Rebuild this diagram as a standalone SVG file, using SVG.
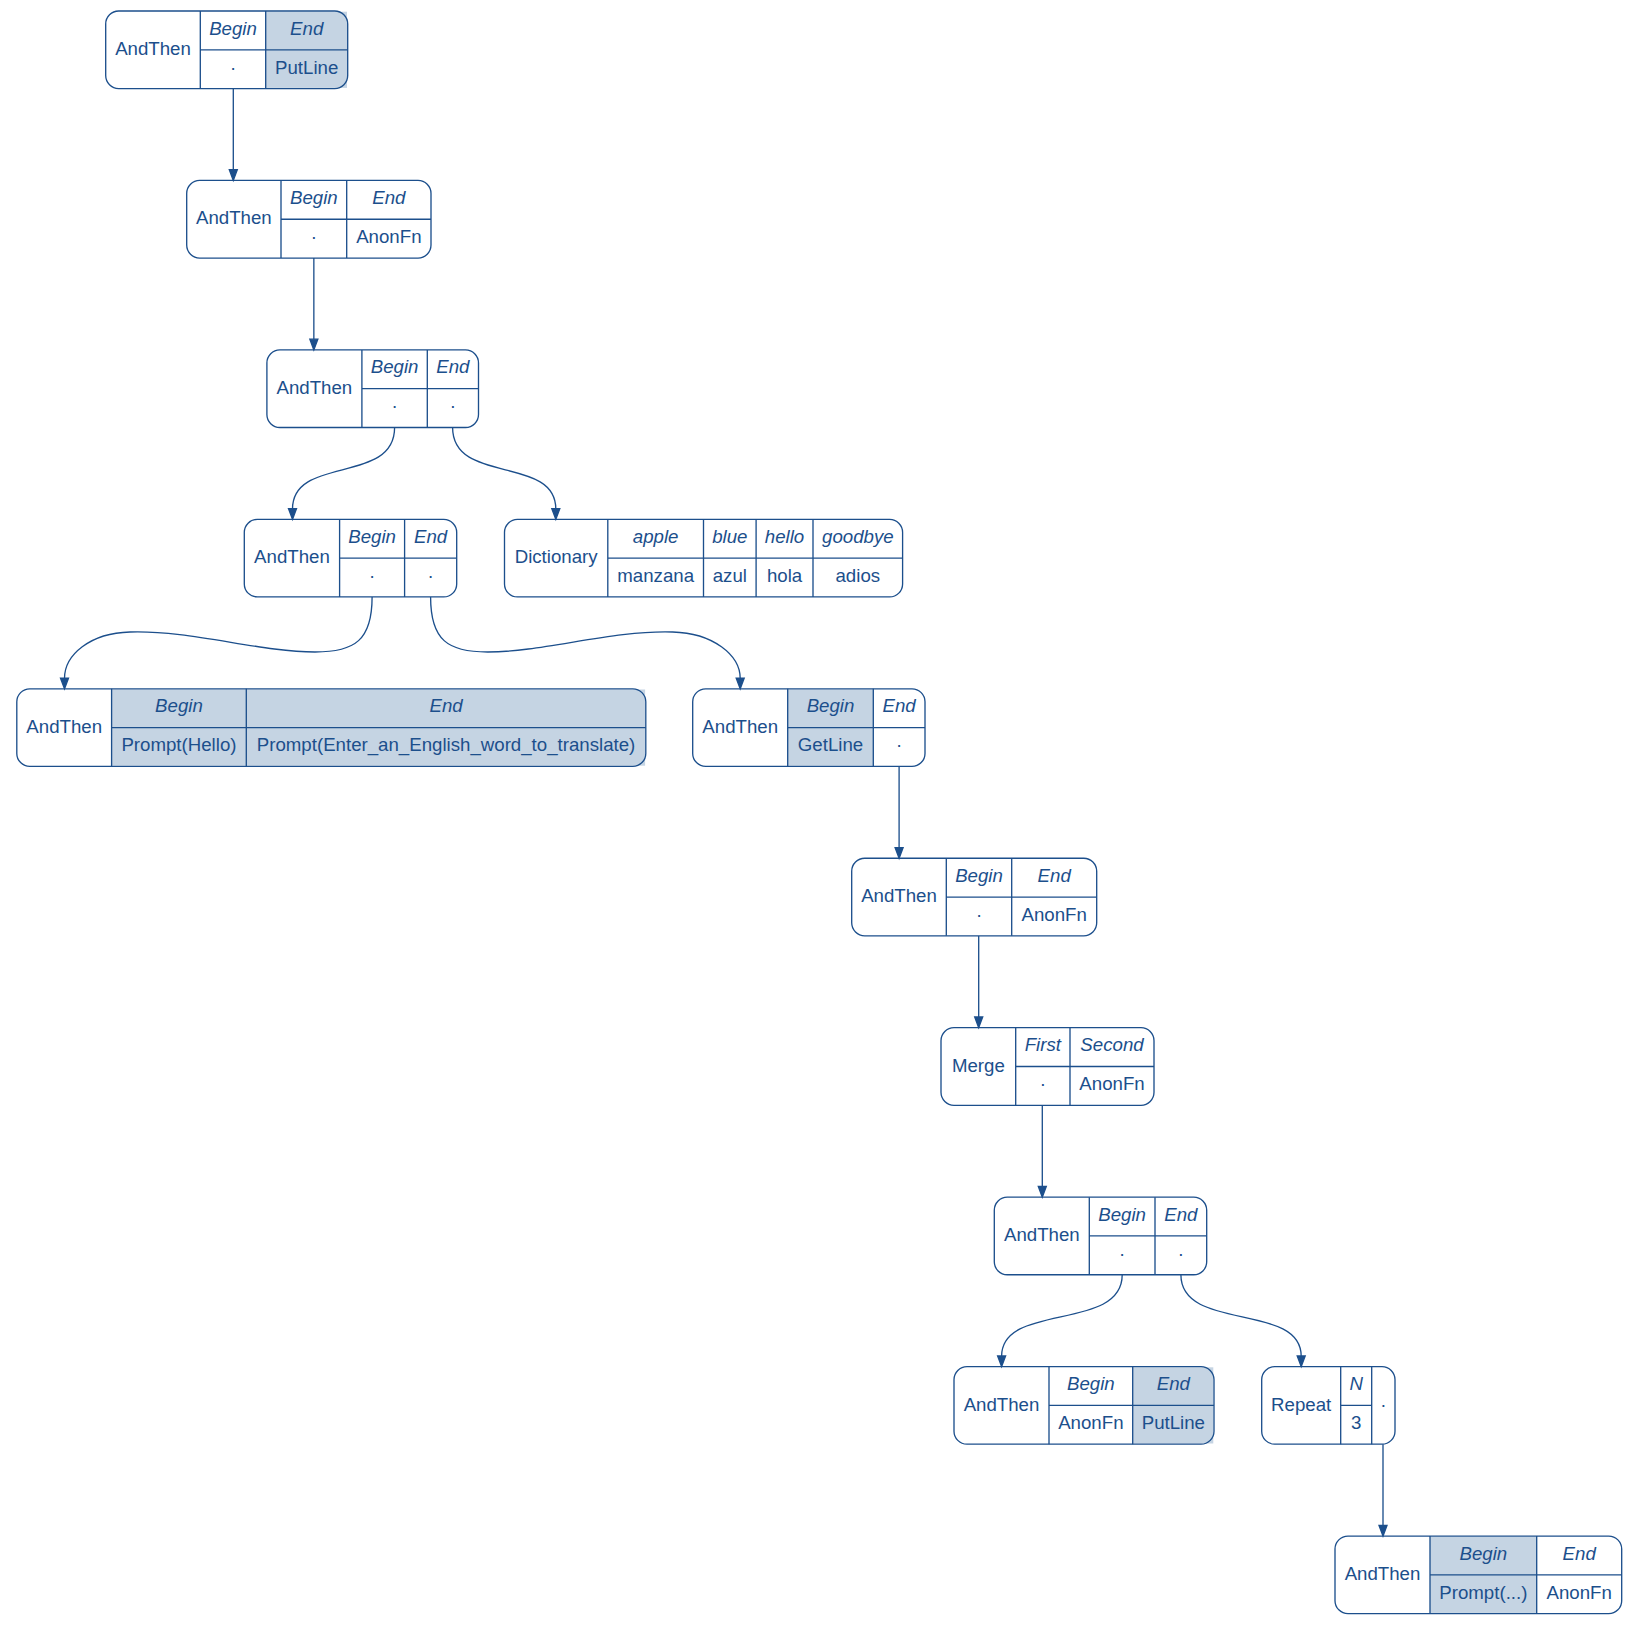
<svg xmlns="http://www.w3.org/2000/svg" width="1638" height="1625" viewBox="0 0 1638 1625">
<style>
.bx{fill:none;stroke:#1c4f8c;stroke-width:1.33}
.ln{stroke:#1c4f8c;stroke-width:1.33}
.sh{fill:#c5d4e3;stroke:none}
text{font-family:"Liberation Sans",Arial,sans-serif;font-size:18.67px;fill:#1c4f8c;text-anchor:middle}
.i{font-style:italic}
.e{fill:none;stroke:#1c4f8c;stroke-width:1.33}
.ah{fill:#1c4f8c;stroke:#1c4f8c;stroke-width:1.33}
</style>
<rect width="1638" height="1625" fill="#ffffff"/>
<g id="edges">
<path class="e" d="M233.3,88.6 L233.3,170"/><polygon class="ah" points="233.3,180.45 229.3,169.75 237.3,169.75"/>
<path class="e" d="M313.85,258 L313.85,339.5"/><polygon class="ah" points="313.85,349.9 309.85,339.2 317.85,339.2"/>
<path class="e" d="M394.6,427.5 C394.6,485 292.5,455 292.5,509"/><polygon class="ah" points="292.5,519.35 288.5,508.65 296.5,508.65"/>
<path class="e" d="M452.6,427.5 C452.6,485 555.8,455 555.8,509"/><polygon class="ah" points="555.8,519.35 551.8,508.65 559.8,508.65"/>
<path class="e" d="M372.1,597 C372.1,640 355,652 315,652 C260,652 190,630 130,632 C90,633 64.5,655 64.5,678.5"/><polygon class="ah" points="64.5,688.8 60.5,678.1 68.5,678.1"/>
<path class="e" d="M430.6,597 C430.6,640 447.7,652 487.7,652 C542.7,652 612.7,630 672.7,632 C712.7,633 740.2,655 740.2,678.5"/><polygon class="ah" points="740.2,688.8 736.2,678.1 744.2,678.1"/>
<path class="e" d="M899.1,766.4 L899.1,848"/><polygon class="ah" points="899.1,858.25 895.1,847.55 903.1,847.55"/>
<path class="e" d="M978.7,935.9 L978.7,1017.4"/><polygon class="ah" points="978.7,1027.7 974.7,1017 982.7,1017"/>
<path class="e" d="M1042.3,1105.3 L1042.3,1186.8"/><polygon class="ah" points="1042.3,1197.15 1038.3,1186.45 1046.3,1186.45"/>
<path class="e" d="M1122.2,1274.8 C1122.2,1332 1001.6,1302 1001.6,1356.3"/><polygon class="ah" points="1001.6,1366.6 997.6,1355.9 1005.6,1355.9"/>
<path class="e" d="M1180.9,1274.8 C1180.9,1332 1301.2,1302 1301.2,1356.3"/><polygon class="ah" points="1301.2,1366.6 1297.2,1355.9 1305.2,1355.9"/>
<path class="e" d="M1383,1444.2 L1383,1525.7"/><polygon class="ah" points="1383,1536.05 1379,1525.35 1387,1525.35"/>
</g>
<g id="n1">
<rect class="sh" x="265.7" y="11.7" width="81.3" height="76.2"/>
<rect class="bx" x="105.7" y="11" width="242" height="77.6" rx="13"/>
<path class="ln" d="M200.3,11V88.6M265.7,11V88.6M200.3,49.8H347.7"/>
<text x="153" y="55">AndThen</text>
<text class="i" x="233" y="34.5">Begin</text><text class="i" x="306.7" y="34.5">End</text>
<text x="233" y="73.5">·</text><text x="306.7" y="73.5">PutLine</text>
</g>
<g id="n2">
<rect class="bx" x="186.7" y="180.45" width="244.3" height="77.6" rx="13"/>
<path class="ln" d="M281,180.45V258.05M346.7,180.45V258.05M281,219.25H431"/>
<text x="233.85" y="224.45">AndThen</text>
<text class="i" x="313.85" y="203.95">Begin</text><text class="i" x="388.85" y="203.95">End</text>
<text x="313.85" y="242.95">·</text><text x="388.85" y="242.95">AnonFn</text>
</g>
<g id="n3">
<rect class="bx" x="266.9" y="349.9" width="211.6" height="77.6" rx="13"/>
<path class="ln" d="M361.9,349.9V427.5M427.3,349.9V427.5M361.9,388.7H478.5"/>
<text x="314.4" y="393.9">AndThen</text>
<text class="i" x="394.6" y="373.4">Begin</text><text class="i" x="452.9" y="373.4">End</text>
<text x="394.6" y="412.4">·</text><text x="452.9" y="412.4">·</text>
</g>
<g id="n4">
<rect class="bx" x="244.3" y="519.35" width="212.4" height="77.6" rx="13"/>
<path class="ln" d="M339.6,519.35V596.95M404.6,519.35V596.95M339.6,558.15H456.7"/>
<text x="291.95" y="563.35">AndThen</text>
<text class="i" x="372.1" y="542.85">Begin</text><text class="i" x="430.65" y="542.85">End</text>
<text x="372.1" y="581.85">·</text><text x="430.65" y="581.85">·</text>
</g>
<g id="dict">
<rect class="bx" x="504.5" y="519.35" width="398.1" height="77.6" rx="13"/>
<path class="ln" d="M607.8,519.35V596.95M703.5,519.35V596.95M756.1,519.35V596.95M813,519.35V596.95M607.8,558.15H902.6"/>
<text x="556.15" y="563.35">Dictionary</text>
<text class="i" x="655.65" y="542.85">apple</text><text class="i" x="729.8" y="542.85">blue</text><text class="i" x="784.55" y="542.85">hello</text><text class="i" x="857.8" y="542.85">goodbye</text>
<text x="655.65" y="581.85">manzana</text><text x="729.8" y="581.85">azul</text><text x="784.55" y="581.85">hola</text><text x="857.8" y="581.85">adios</text>
</g>
<g id="n5">
<rect class="sh" x="111.6" y="689.5" width="533.5" height="76.2"/>
<rect class="bx" x="16.8" y="688.8" width="629" height="77.6" rx="13"/>
<path class="ln" d="M111.6,688.8V766.4M246.3,688.8V766.4M111.6,727.6H645.8"/>
<text x="64.2" y="732.8">AndThen</text>
<text class="i" x="178.95" y="712.3">Begin</text><text class="i" x="446.05" y="712.3">End</text>
<text x="178.95" y="751.3">Prompt(Hello)</text><text x="446.05" y="751.3">Prompt(Enter_an_English_word_to_translate)</text>
</g>
<g id="n6">
<rect class="sh" x="787.7" y="689.5" width="85.6" height="76.2"/>
<rect class="bx" x="692.7" y="688.8" width="232.3" height="77.6" rx="13"/>
<path class="ln" d="M787.7,688.8V766.4M873.3,688.8V766.4M787.7,727.6H925"/>
<text x="740.2" y="732.8">AndThen</text>
<text class="i" x="830.5" y="712.3">Begin</text><text class="i" x="899.15" y="712.3">End</text>
<text x="830.5" y="751.3">GetLine</text><text x="899.15" y="751.3">·</text>
</g>
<g id="n7">
<rect class="bx" x="851.7" y="858.25" width="245" height="77.6" rx="13"/>
<path class="ln" d="M946.3,858.25V935.85M1011.7,858.25V935.85M946.3,897.05H1096.7"/>
<text x="899" y="902.25">AndThen</text>
<text class="i" x="979" y="881.75">Begin</text><text class="i" x="1054.2" y="881.75">End</text>
<text x="979" y="920.75">·</text><text x="1054.2" y="920.75">AnonFn</text>
</g>
<g id="n8">
<rect class="bx" x="941" y="1027.7" width="213" height="77.6" rx="13"/>
<path class="ln" d="M1015.7,1027.7V1105.3M1070,1027.7V1105.3M1015.7,1066.5H1154"/>
<text x="978.35" y="1071.7">Merge</text>
<text class="i" x="1042.85" y="1051.2">First</text><text class="i" x="1112" y="1051.2">Second</text>
<text x="1042.85" y="1090.2">·</text><text x="1112" y="1090.2">AnonFn</text>
</g>
<g id="n9">
<rect class="bx" x="994.3" y="1197.15" width="212.4" height="77.6" rx="13"/>
<path class="ln" d="M1089.3,1197.15V1274.75M1155,1197.15V1274.75M1089.3,1235.95H1206.7"/>
<text x="1041.8" y="1241.15">AndThen</text>
<text class="i" x="1122.15" y="1220.65">Begin</text><text class="i" x="1180.85" y="1220.65">End</text>
<text x="1122.15" y="1259.65">·</text><text x="1180.85" y="1259.65">·</text>
</g>
<g id="n10">
<rect class="sh" x="1132.7" y="1367.3" width="80.6" height="76.2"/>
<rect class="bx" x="954" y="1366.6" width="260" height="77.6" rx="13"/>
<path class="ln" d="M1049,1366.6V1444.2M1132.7,1366.6V1444.2M1049,1405.4H1214"/>
<text x="1001.5" y="1410.6">AndThen</text>
<text class="i" x="1090.85" y="1390.1">Begin</text><text class="i" x="1173.35" y="1390.1">End</text>
<text x="1090.85" y="1429.1">AnonFn</text><text x="1173.35" y="1429.1">PutLine</text>
</g>
<g id="n11">
<rect class="bx" x="1261.7" y="1366.6" width="133.3" height="77.6" rx="13"/>
<path class="ln" d="M1340.7,1366.6V1444.2M1371.7,1366.6V1444.2M1340.7,1405.4H1371.7"/>
<text x="1301.2" y="1410.6">Repeat</text>
<text class="i" x="1356.2" y="1390.1">N</text>
<text x="1356.2" y="1429.1">3</text>
<text x="1383.35" y="1410.6">·</text>
</g>
<g id="n12">
<rect class="sh" x="1430" y="1536.75" width="106.7" height="76.2"/>
<rect class="bx" x="1335" y="1536.05" width="286.7" height="77.6" rx="13"/>
<path class="ln" d="M1430,1536.05V1613.65M1536.7,1536.05V1613.65M1430,1574.85H1621.7"/>
<text x="1382.5" y="1580.05">AndThen</text>
<text class="i" x="1483.35" y="1559.55">Begin</text><text class="i" x="1579.2" y="1559.55">End</text>
<text x="1483.35" y="1598.55">Prompt(...)</text><text x="1579.2" y="1598.55">AnonFn</text>
</g>
</svg>
